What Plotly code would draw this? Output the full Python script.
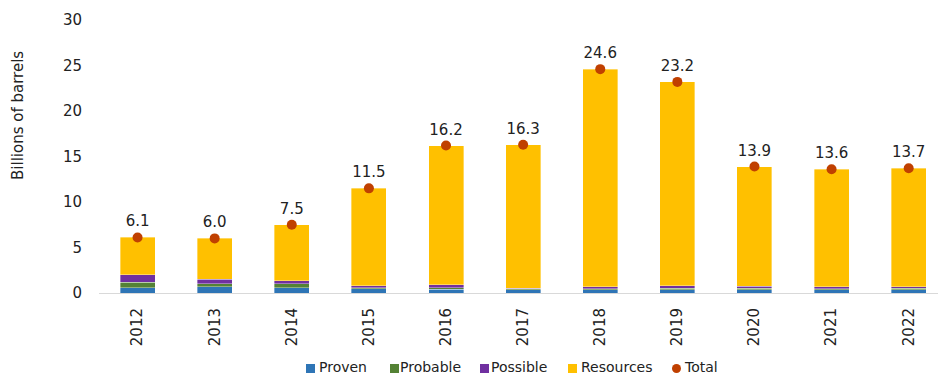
import plotly.graph_objects as go

years = ["2012", "2013", "2014", "2015", "2016", "2017", "2018", "2019", "2020", "2021", "2022"]
proven = [0.6, 0.7, 0.6, 0.45, 0.4, 0.35, 0.35, 0.35, 0.35, 0.35, 0.35]
probable = [0.6, 0.3, 0.4, 0.15, 0.2, 0.1, 0.1, 0.15, 0.15, 0.1, 0.15]
possible = [0.8, 0.5, 0.35, 0.2, 0.3, 0.05, 0.25, 0.3, 0.25, 0.25, 0.2]
total = [6.1, 6.0, 7.5, 11.5, 16.2, 16.3, 24.6, 23.2, 13.9, 13.6, 13.7]
resources = [round(t - a - b - c, 2) for t, a, b, c in zip(total, proven, probable, possible)]

FONT = "DejaVu Sans"
TEXT = "#222222"
COLORS = {"Proven": "#2E75B6", "Probable": "#548235", "Possible": "#7030A0",
          "Resources": "#FFC000", "Total": "#C04000"}

# plot area in pixels (used to place the hand-built legend)
L, R, T, B = 99, 938, 20, 293
def px_x(px):
    return (px - L) / (R - L)
def px_y(py):
    return (B - py) / (B - T)

fig = go.Figure()
for name, vals in [("Proven", proven), ("Probable", probable),
                   ("Possible", possible), ("Resources", resources)]:
    fig.add_trace(go.Bar(
        x=years, y=vals, name=name, showlegend=False,
        marker=dict(color=COLORS[name], line=dict(color="rgba(255,255,255,0.6)", width=0.6)),
    ))

fig.add_trace(go.Scatter(
    x=years, y=total, name="Total", mode="markers+text", showlegend=False,
    marker=dict(color=COLORS["Total"], size=10),
    text=[f"{v:.1f}" for v in total], textposition="top center",
    textfont=dict(family=FONT, size=15, color=TEXT),
))

# legend: swatch left edge and label start (pixels)
legend_items = [("Proven", 306, 317), ("Probable", 390, 398), ("Possible", 480, 489),
                ("Resources", 568, 579), ("Total", 672, 682)]
shapes, annotations = [], []
for name, sx, tx in legend_items:
    shapes.append(dict(
        type="circle" if name == "Total" else "rect",
        xref="paper", yref="paper",
        x0=px_x(sx), x1=px_x(sx + 9), y0=px_y(364), y1=px_y(373),
        fillcolor=COLORS[name], line=dict(width=0),
    ))
    annotations.append(dict(
        text=name, xref="paper", yref="paper", x=px_x(tx), y=px_y(366.5),
        xanchor="left", yanchor="middle", showarrow=False,
        font=dict(family=FONT, size=14, color=TEXT),
    ))

annotations.append(dict(text="Billions of barrels", textangle=-90, xref="paper", yref="paper",
                        x=px_x(18), y=px_y(116), xanchor="center", yanchor="middle",
                        showarrow=False, font=dict(family=FONT, size=15, color=TEXT)))

fig.update_layout(
    width=938, height=374,
    margin=dict(l=L, r=938 - R, t=T, b=374 - B),
    barmode="stack", bargap=0.546,
    plot_bgcolor="white", paper_bgcolor="white",
    font=dict(family=FONT, size=15, color=TEXT),
    showlegend=False,
    xaxis=dict(type="category", range=[-0.5, 10.38], tickangle=-90, automargin=False,
               showline=True, linecolor="#d9d9d9", linewidth=1,
               ticks="", showgrid=False, ticklabelstandoff=8),
    yaxis=dict(range=[0, 30], dtick=5, showgrid=False, zeroline=False, automargin=False,
               showline=False, ticks="", ticklabelstandoff=16),
    shapes=shapes,
    annotations=annotations,
)

fig.write_html("out.html")
